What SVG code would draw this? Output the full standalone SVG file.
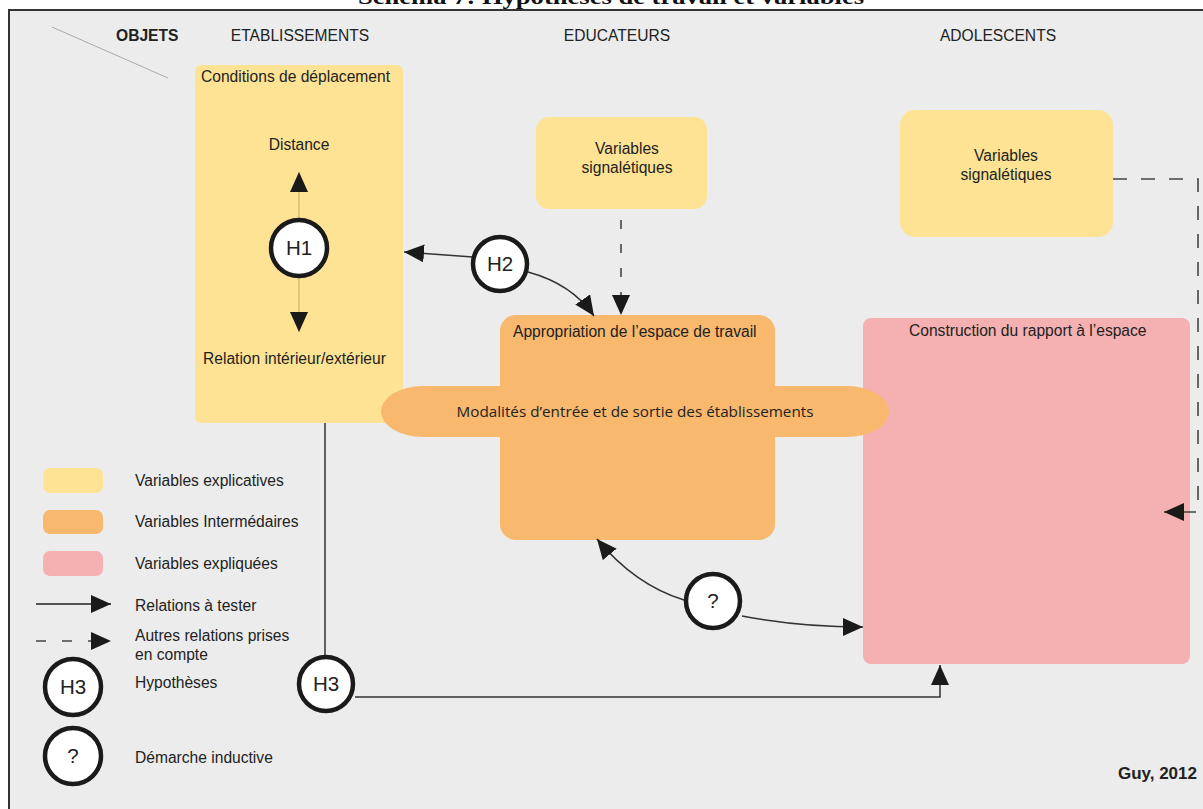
<svg xmlns="http://www.w3.org/2000/svg" width="1203" height="809" viewBox="0 0 1203 809">
<defs>
<style>
.t{font-family:"Liberation Sans",Arial,sans-serif;font-size:15.6px;fill:#222}
.c{text-anchor:middle}
.hc{font-family:"Liberation Sans",Arial,sans-serif;font-size:20.5px;fill:#222;text-anchor:middle}
.circ{fill:#fff;stroke:#1a1a1a;stroke-width:4.5}
.ln{fill:none;stroke:#333;stroke-width:1.5}
.dash{fill:none;stroke:#444;stroke-width:1.6;stroke-dasharray:14 14}
.tan{fill:none;stroke:#c9a56b;stroke-width:1}
.yel{fill:#fee394}
.ora{fill:#f8b86d}
.pink{fill:#f5b0b1}
</style>
<marker id="ah" viewBox="0 0 20 18" refX="20" refY="9" markerWidth="20" markerHeight="18" markerUnits="userSpaceOnUse" orient="auto">
<path d="M0,0 L20,9 L0,18 z" fill="#1a1a1a"/>
</marker>
</defs>
<rect x="0" y="0" width="1203" height="809" fill="#fff"/>
<text x="611" y="4" text-anchor="middle" font-family="Liberation Serif,Times New Roman,serif" font-weight="bold" font-size="22" fill="#111" textLength="506" lengthAdjust="spacingAndGlyphs">Schéma 7: Hypothèses de travail et variables</text>
<rect x="9" y="10" width="1200" height="805" fill="#ececec" stroke="#333" stroke-width="2"/>
<line x1="52" y1="27" x2="168" y2="78" stroke="#aaa" stroke-width="1"/>
<text class="t" x="116" y="41" font-weight="bold">OBJETS</text>
<text class="t c" x="300" y="41">ETABLISSEMENTS</text>
<text class="t c" x="617" y="41">EDUCATEURS</text>
<text class="t c" x="998" y="41">ADOLESCENTS</text>

<g id="etablissements">
<rect class="yel" x="195" y="65" width="208" height="358" rx="6"/>
<text class="t" x="201" y="82">Conditions de déplacement</text>
<text class="t c" x="299" y="150">Distance</text>
<text class="t" x="203" y="364">Relation intérieur/extérieur</text>
</g>
<g id="educ-signal">
<rect class="yel" x="536" y="117" width="171" height="92" rx="13"/>
<text class="t c" x="627" y="154">Variables</text>
<text class="t c" x="627" y="173">signalétiques</text>
</g>
<g id="ado-signal">
<rect class="yel" x="900" y="110" width="213" height="127" rx="15"/>
<text class="t c" x="1006" y="161">Variables</text>
<text class="t c" x="1006" y="180">signalétiques</text>
</g>
<g id="construction">
<rect class="pink" x="863" y="318" width="327" height="346" rx="8"/>
<text class="t" x="909" y="336">Construction du rapport à l’espace</text>
</g>
<g id="appropriation">
<rect class="ora" x="500" y="315" width="275" height="225" rx="16"/>
<text class="t" x="513" y="337">Appropriation de l’espace de travail</text>
</g>
<g id="modalites">
<rect class="ora" x="381" y="386" width="508" height="51" rx="42" ry="25.5"/>
<text x="635" y="417" text-anchor="middle" font-family="Open Sans,Noto Sans,sans-serif" font-size="14" fill="#222" textLength="357" lengthAdjust="spacingAndGlyphs">Modalités d’entrée et de sortie des établissements</text>
</g>

<g id="connectors">
<path class="tan" d="M299,220 V172" marker-end="url(#ah)"/>
<path class="tan" d="M299,276 V332" marker-end="url(#ah)"/>
<path class="ln" d="M473,257 L404,252" marker-end="url(#ah)"/>
<path class="ln" d="M528,272 Q572,284 594,316" marker-end="url(#ah)"/>
<path class="dash" d="M621,220 V315" marker-end="url(#ah)" style="stroke-dasharray:9 15"/>
<path class="dash" d="M1113,179 H1198 V512 H1164" marker-end="url(#ah)"/>
<path class="ln" d="M684,600 Q635,585 597,539" marker-end="url(#ah)"/>
<path class="ln" d="M742,616 Q800,627 863,627" marker-end="url(#ah)"/>
<path class="ln" d="M325,423 V656"/>
<path class="ln" d="M355,697 H940 V665" marker-end="url(#ah)"/>
</g>

<g id="h1"><circle class="circ" cx="299" cy="248" r="28"/><text class="hc" x="299" y="255">H1</text></g>
<g id="h2"><circle class="circ" cx="500" cy="264" r="27"/><text class="hc" x="500" y="271">H2</text></g>
<g id="q"><circle class="circ" cx="713" cy="601" r="27"/><text class="hc" x="713" y="608">?</text></g>
<g id="h3"><circle class="circ" cx="326" cy="684" r="27"/><text class="hc" x="326" y="691">H3</text></g>

<g id="legend">
<rect class="yel" x="43" y="468" width="60" height="25" rx="7"/>
<rect class="ora" x="43" y="510" width="60" height="24" rx="7"/>
<rect class="pink" x="43" y="551" width="60" height="25" rx="7"/>
<text class="t" x="135" y="486">Variables explicatives</text>
<text class="t" x="135" y="527">Variables Intermédaires</text>
<text class="t" x="135" y="569">Variables expliquées</text>
<path class="ln" d="M36,604 H111" marker-end="url(#ah)" style="stroke:#222"/>
<text class="t" x="135" y="611">Relations à tester</text>
<path class="dash" d="M36,641 H111" marker-end="url(#ah)" style="stroke-dasharray:10 16"/>
<text class="t" x="135" y="641">Autres relations prises</text>
<text class="t" x="135" y="660">en compte</text>
<circle class="circ" cx="73" cy="687" r="28"/><text class="hc" x="73" y="694">H3</text>
<text class="t" x="135" y="688">Hypothèses</text>
<circle class="circ" cx="73" cy="756" r="28"/><text class="hc" x="73" y="763">?</text>
<text class="t" x="135" y="763">Démarche inductive</text>
</g>
<text class="t" x="1197" y="779" text-anchor="end" font-weight="bold" style="font-size:17px">Guy, 2012</text>
</svg>
